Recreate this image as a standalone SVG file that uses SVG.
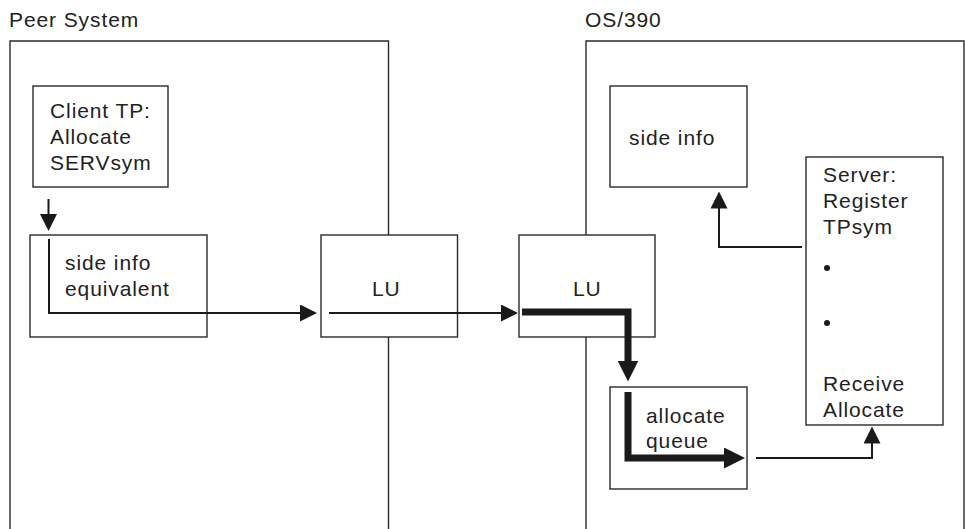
<svg xmlns="http://www.w3.org/2000/svg" width="965" height="529" viewBox="0 0 965 529">
<style>
text{font-family:"Liberation Sans",Arial,Helvetica,sans-serif;font-size:21px;letter-spacing:0.9px;fill:#222}
.box{fill:#fff;stroke:#2a2a2a;stroke-width:1.4}
.frame{fill:none;stroke:#2a2a2a;stroke-width:1.4}
.thin{fill:none;stroke:#1a1a1a;stroke-width:2}
.thick{fill:none;stroke:#1a1a1a;stroke-width:7;stroke-linejoin:miter}
.dot{fill:#1a1a1a}
</style>
<defs>
<marker id="ah" markerUnits="userSpaceOnUse" viewBox="0 0 17 17" markerWidth="17" markerHeight="17" refX="0.5" refY="8.5" orient="auto"><path d="M0,0 L17,8.5 L0,17 Z" fill="#1a1a1a"/></marker>
<marker id="ahk" markerUnits="userSpaceOnUse" viewBox="0 0 21 21" markerWidth="21" markerHeight="21" refX="0.5" refY="10.5" orient="auto"><path d="M0,0 L21,10.5 L0,21 Z" fill="#1a1a1a"/></marker>
</defs>
<g id="peer-system">
<path class="frame" d="M10,529 V41 H388.5 V529"/>
<text x="9" y="27">Peer System</text>
</g>
<g id="os390">
<path class="frame" d="M586,529 V41 H964 V529"/>
<text x="585" y="27">OS/390</text>
</g>
<g id="client-tp">
<rect class="box" x="33" y="86" width="135" height="101"/>
<text x="50" y="118">Client TP:</text>
<text x="50" y="144">Allocate</text>
<text x="50" y="170">SERVsym</text>
</g>
<g id="side-info-equivalent">
<rect class="box" x="30" y="235" width="177" height="102"/>
<text x="65" y="270">side info</text>
<text x="65" y="296">equivalent</text>
</g>
<g id="lu-peer">
<rect class="box" x="321" y="235" width="136.5" height="102"/>
<text x="372" y="296">LU</text>
</g>
<g id="lu-os">
<rect class="box" x="519" y="235" width="136" height="102"/>
<text x="573" y="296">LU</text>
</g>
<g id="side-info">
<rect class="box" x="610" y="86" width="137" height="101"/>
<text x="629" y="145">side info</text>
</g>
<g id="server">
<rect class="box" x="806" y="157" width="137" height="268"/>
<text x="823" y="182">Server:</text>
<text x="823" y="208">Register</text>
<text x="823" y="234">TPsym</text>
<circle class="dot" cx="827" cy="268" r="3"/>
<circle class="dot" cx="827" cy="323" r="3"/>
<text x="823" y="391">Receive</text>
<text x="823" y="417">Allocate</text>
</g>
<g id="allocate-queue">
<rect class="box" x="610" y="387" width="137" height="102"/>
<text x="646" y="423">allocate</text>
<text x="646" y="448">queue</text>
</g>
<g id="connectors">
<path class="thin" d="M48.5,199 V214.5" marker-end="url(#ah)"/>
<path class="thin" d="M49,239 V313 H300.5" marker-end="url(#ah)"/>
<path class="thin" d="M329,313 H501.5" marker-end="url(#ah)"/>
<path class="thick" d="M522,312 H628 V361" marker-end="url(#ahk)"/>
<path class="thick" d="M628,392 V458 H724.5" marker-end="url(#ahk)"/>
<path class="thin" d="M756,458 H872 V443" marker-end="url(#ah)"/>
<path class="thin" d="M802,247 H719 V208" marker-end="url(#ah)"/>
</g>
</svg>
